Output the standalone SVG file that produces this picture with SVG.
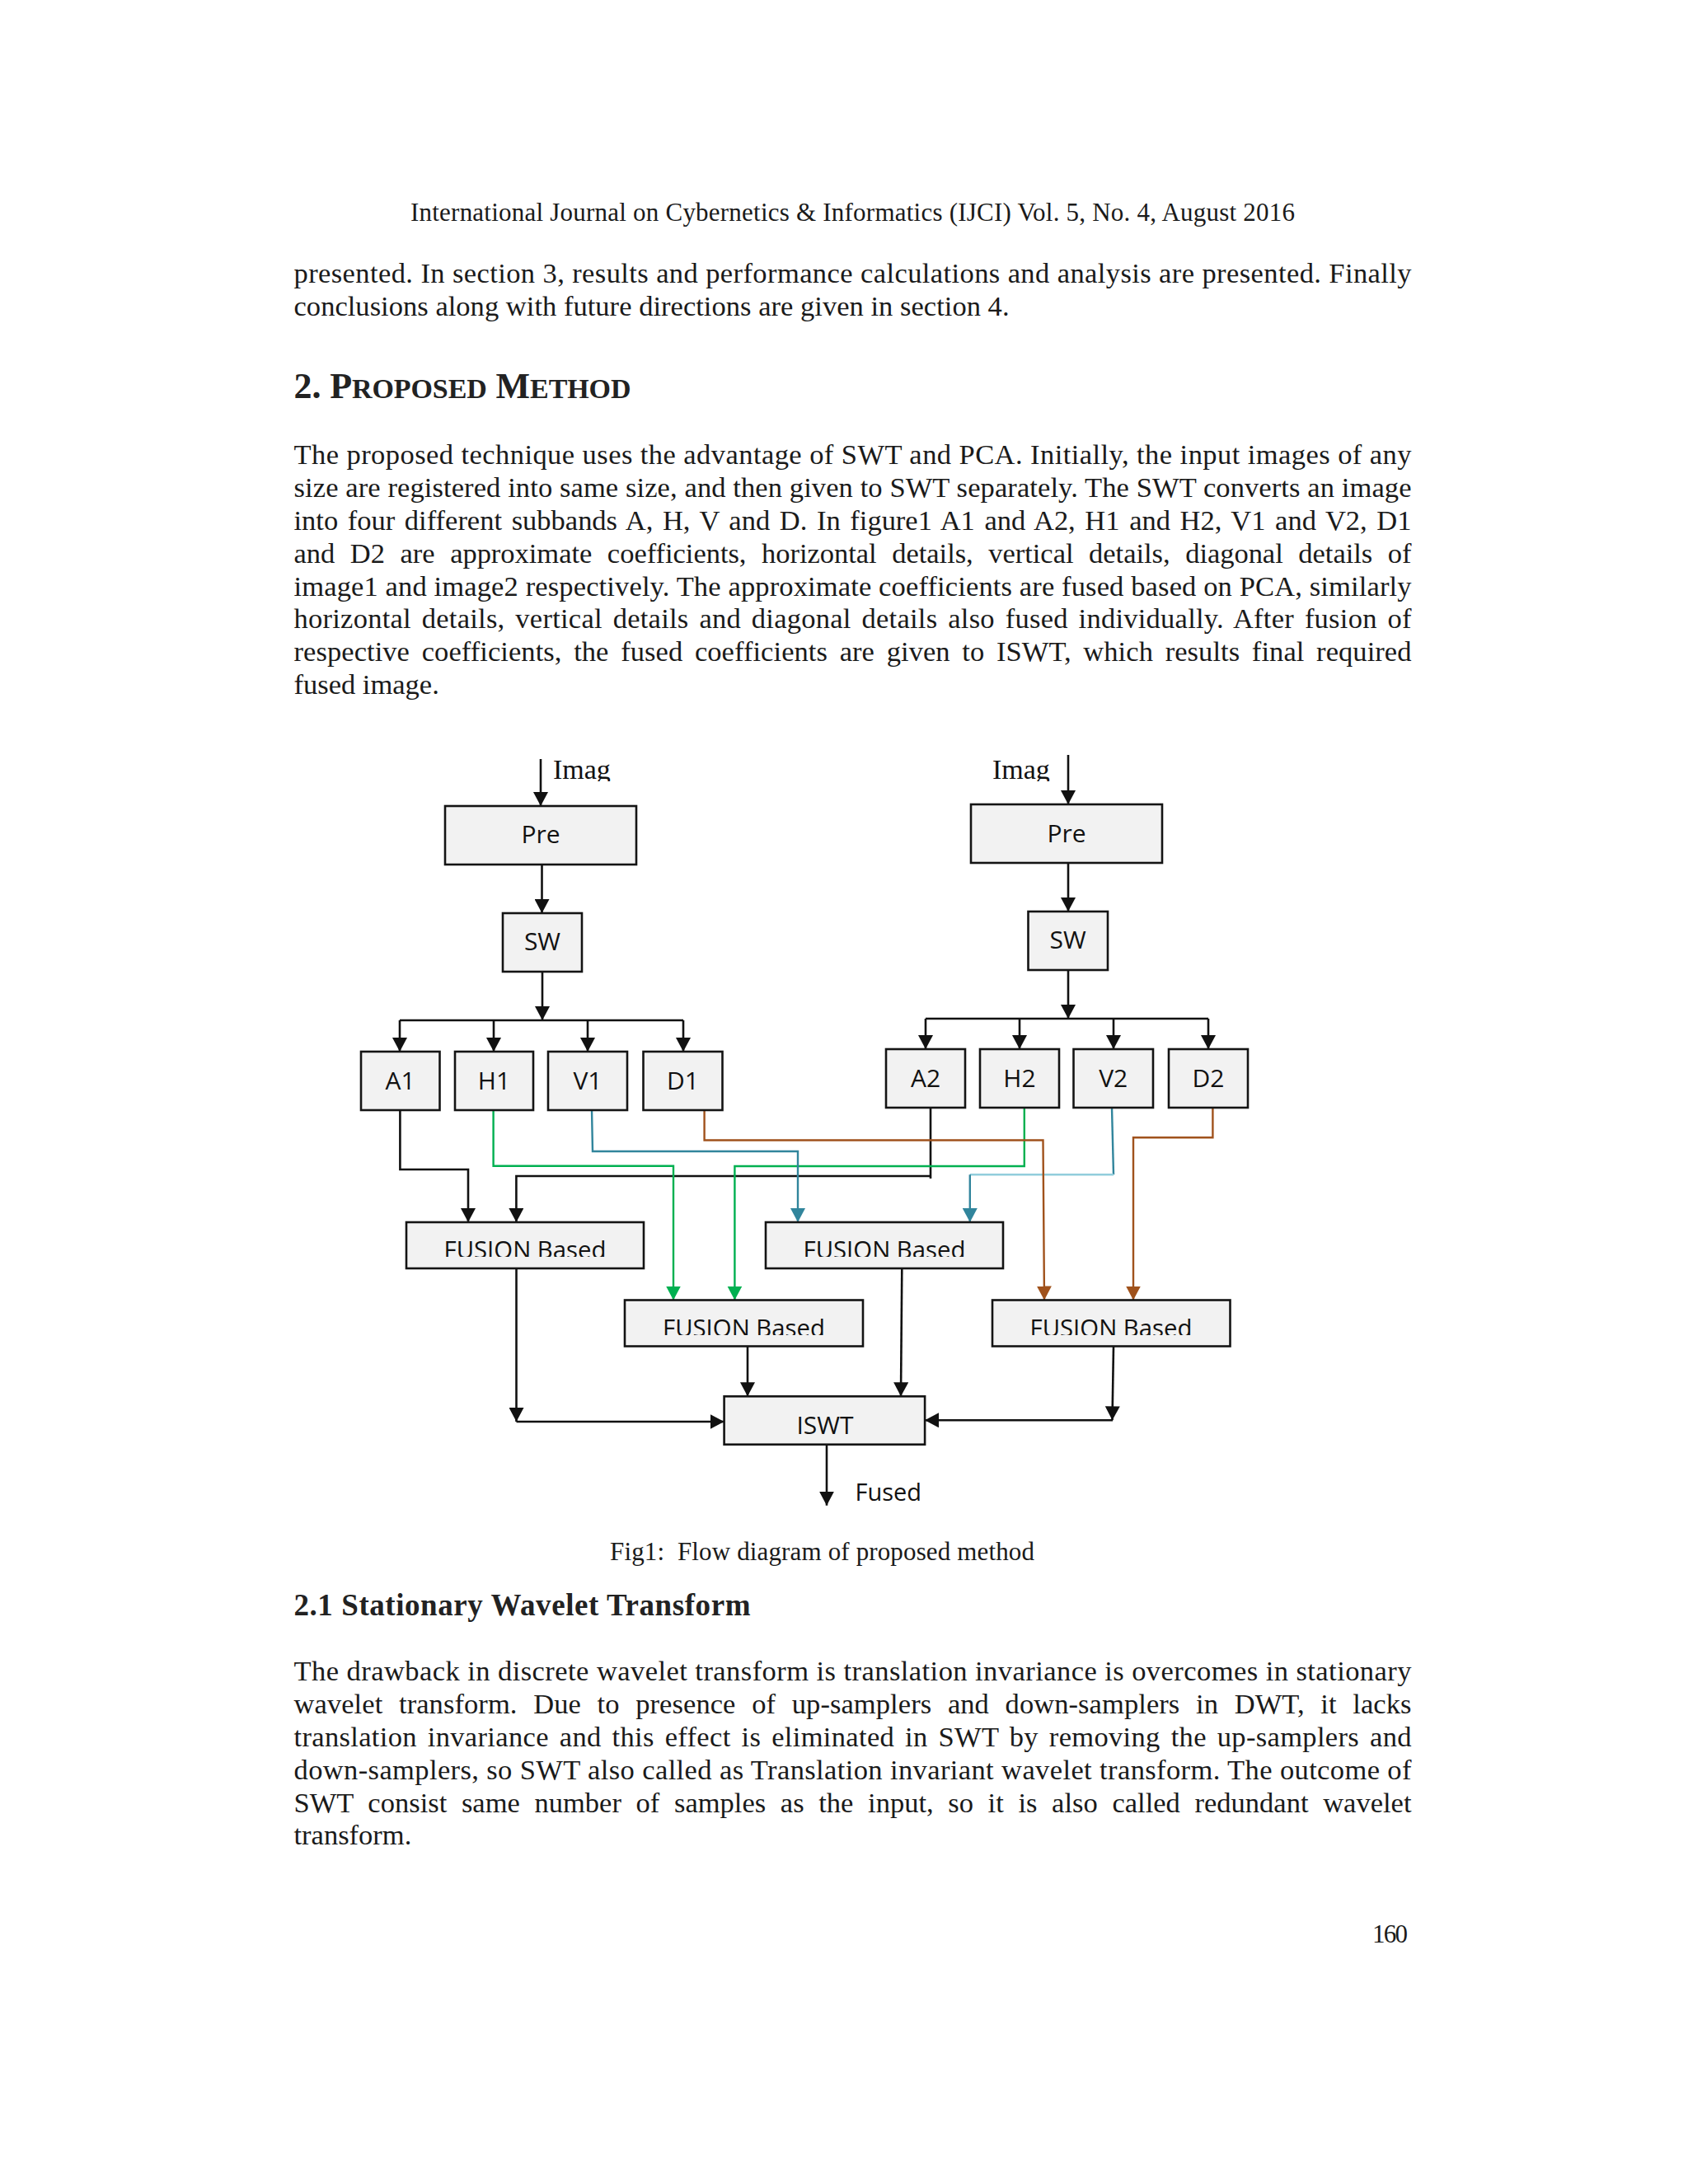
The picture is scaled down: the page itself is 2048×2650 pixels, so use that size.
<svg xmlns="http://www.w3.org/2000/svg" width="2048" height="2650" viewBox="0 0 2048 2650">
<style>
.page{fill:#ffffff}
.box{fill:#f2f2f2;stroke:#141414;stroke-width:2.6}
.lbl{font-family:"Open Sans","Liberation Sans",sans-serif;font-size:30px;fill:#111;text-anchor:middle}
.body{font-family:"Liberation Serif","Times New Roman",serif;font-size:34.5px;fill:#1a1a1a}
.hdr{font-family:"Liberation Serif","Times New Roman",serif;font-size:31px;fill:#1a1a1a}
.h1{font-family:"Liberation Serif","Times New Roman",serif;font-weight:bold;fill:#222}
.img{font-family:"Liberation Serif","Times New Roman",serif;font-size:34px;fill:#111}
.k{stroke:#111;stroke-width:2.6;fill:none}
.g{stroke:#00b050;stroke-width:2.4;fill:none}
.t{stroke:#31859c;stroke-width:2.4;fill:none}
.lt{stroke:#92cddc;stroke-width:2.4;fill:none}
.o{stroke:#a0521c;stroke-width:2.4;fill:none}
</style>
<defs>
<marker id="mk" markerUnits="userSpaceOnUse" markerWidth="18" markerHeight="18" refX="17" refY="9" orient="auto"><path d="M0,0 L17,9 L0,18 Z" fill="#111"/></marker>
<marker id="mg" markerUnits="userSpaceOnUse" markerWidth="18" markerHeight="18" refX="17" refY="9" orient="auto"><path d="M0,0 L17,9 L0,18 Z" fill="#00b050"/></marker>
<marker id="mt" markerUnits="userSpaceOnUse" markerWidth="18" markerHeight="18" refX="17" refY="9" orient="auto"><path d="M0,0 L17,9 L0,18 Z" fill="#31859c"/></marker>
<marker id="mo" markerUnits="userSpaceOnUse" markerWidth="18" markerHeight="18" refX="17" refY="9" orient="auto"><path d="M0,0 L17,9 L0,18 Z" fill="#a0521c"/></marker>
<clipPath id="cImg" clipPathUnits="userSpaceOnUse"><rect x="600" y="900" width="800" height="48"/></clipPath>
<clipPath id="cF1" clipPathUnits="userSpaceOnUse"><rect x="480" y="1485" width="750" height="40"/></clipPath>
<clipPath id="cF2" clipPathUnits="userSpaceOnUse"><rect x="740" y="1580" width="770" height="40"/></clipPath>
</defs>
<rect class="page" x="0" y="0" width="2048" height="2650"/>

<g id="page-text">
<text class="hdr" x="498" y="268" textLength="1073" lengthAdjust="spacing">International Journal on Cybernetics &amp; Informatics (IJCI) Vol. 5, No. 4, August 2016</text>
<text class="body" x="356.5" y="343.3" textLength="1356" lengthAdjust="spacing">presented. In section 3, results and performance calculations and analysis are presented. Finally</text>
<text class="body" x="356.5" y="383.3" textLength="868" lengthAdjust="spacing">conclusions along with future directions are given in section 4.</text>
<text class="h1" x="356.5" y="483.3" textLength="409" lengthAdjust="spacing"><tspan font-size="44">2. P</tspan><tspan font-size="34">ROPOSED</tspan><tspan font-size="44"> M</tspan><tspan font-size="34">ETHOD</tspan></text>
<text class="body" x="356.5" y="563.3" textLength="1356" lengthAdjust="spacing">The proposed technique uses the advantage of SWT and PCA. Initially, the input images of any</text>
<text class="body" x="356.5" y="603.1" textLength="1356" lengthAdjust="spacing">size are registered into same size, and then given to SWT separately. The SWT converts an image</text>
<text class="body" x="356.5" y="642.9" textLength="1356" lengthAdjust="spacing" word-spacing="3">into four different subbands A, H, V and D. In figure1 A1 and A2, H1 and H2, V1 and V2, D1</text>
<text class="body" x="356.5" y="682.7" textLength="1356" lengthAdjust="spacing" word-spacing="10">and D2 are approximate coefficients, horizontal details, vertical details, diagonal details of</text>
<text class="body" x="356.5" y="722.5" textLength="1356" lengthAdjust="spacing">image1 and image2 respectively. The approximate coefficients are fused based on PCA, similarly</text>
<text class="body" x="356.5" y="762.3" textLength="1356" lengthAdjust="spacing" word-spacing="4">horizontal details, vertical details and diagonal details also fused individually. After fusion of</text>
<text class="body" x="356.5" y="802.1" textLength="1356" lengthAdjust="spacing" word-spacing="6">respective coefficients, the fused coefficients are given to ISWT, which results final required</text>
<text class="body" x="356.5" y="841.9">fused image.</text>
<text class="hdr" x="740" y="1893.3" textLength="515" lengthAdjust="spacing" xml:space="preserve">Fig1:  Flow diagram of proposed method</text>
<text class="h1" x="356.5" y="1960" font-size="37" textLength="554" lengthAdjust="spacing">2.1 Stationary Wavelet Transform</text>
<text class="body" x="356.5" y="2039.3" textLength="1356" lengthAdjust="spacing">The drawback in discrete wavelet transform is translation invariance is overcomes in stationary</text>
<text class="body" x="356.5" y="2079.2" textLength="1356" lengthAdjust="spacing" word-spacing="11">wavelet transform. Due to presence of up-samplers and down-samplers in DWT, it lacks</text>
<text class="body" x="356.5" y="2119" textLength="1356" lengthAdjust="spacing" word-spacing="4">translation invariance and this effect is eliminated in SWT by removing the up-samplers and</text>
<text class="body" x="356.5" y="2158.8" textLength="1356" lengthAdjust="spacing">down-samplers, so SWT also called as Translation invariant wavelet transform. The outcome of</text>
<text class="body" x="356.5" y="2198.6" textLength="1356" lengthAdjust="spacing" word-spacing="9">SWT consist same number of samples as the input, so it is also called redundant wavelet</text>
<text class="body" x="356.5" y="2238.4">transform.</text>
<text class="hdr" x="1665" y="2356.7" font-size="30" textLength="43" lengthAdjust="spacing">160</text>
</g>

<g id="connectors">
<path class="k" d="M656,921 V978" marker-end="url(#mk)"/>
<path class="k" d="M657.5,1049 V1108" marker-end="url(#mk)"/>
<path class="k" d="M658,1179 V1238" marker-end="url(#mk)"/>
<path class="k" d="M485,1238 H829"/>
<path class="k" d="M485,1238 V1276" marker-end="url(#mk)"/>
<path class="k" d="M599,1238 V1276" marker-end="url(#mk)"/>
<path class="k" d="M713,1238 V1276" marker-end="url(#mk)"/>
<path class="k" d="M829,1238 V1276" marker-end="url(#mk)"/>

<path class="k" d="M1296,916 V976" marker-end="url(#mk)"/>
<path class="k" d="M1296,1047 V1106" marker-end="url(#mk)"/>
<path class="k" d="M1296,1177 V1236" marker-end="url(#mk)"/>
<path class="k" d="M1123,1236 H1466"/>
<path class="k" d="M1123,1236 V1273" marker-end="url(#mk)"/>
<path class="k" d="M1237,1236 V1273" marker-end="url(#mk)"/>
<path class="k" d="M1351,1236 V1273" marker-end="url(#mk)"/>
<path class="k" d="M1466,1236 V1273" marker-end="url(#mk)"/>

<path class="k" d="M485.4,1347 V1419 H568 V1483" marker-end="url(#mk)"/>
<path class="k" d="M1129,1344 V1430"/>
<path class="k" d="M1129,1427 H626.4 V1483" marker-end="url(#mk)"/>
<path class="g" d="M598.6,1346 V1414.7 H817 V1577.5" marker-end="url(#mg)"/>
<path class="g" d="M1242.8,1344 V1415 H891.4 V1577.5" marker-end="url(#mg)"/>
<path class="t" d="M718,1346 L719,1397 H968 V1483" marker-end="url(#mt)"/>
<path class="t" d="M1349,1344 L1351,1425.3"/>
<path class="lt" d="M1351,1425.3 H1176.8"/>
<path class="t" d="M1176.8,1425.3 V1483" marker-end="url(#mt)"/>
<path class="o" d="M854.6,1346 V1383.5 H1265.5 L1267,1577.5" marker-end="url(#mo)"/>
<path class="o" d="M1471.4,1344 V1380.3 H1375 V1577.5" marker-end="url(#mo)"/>

<path class="k" d="M626.5,1539 V1725" marker-end="url(#mk)"/>
<path class="k" d="M626.5,1725 H878.6" marker-end="url(#mk)"/>
<path class="k" d="M907,1633.5 V1694.3" marker-end="url(#mk)"/>
<path class="k" d="M1094.3,1539 L1093,1694.3" marker-end="url(#mk)"/>
<path class="k" d="M1351,1633.5 L1349.5,1723.3" marker-end="url(#mk)"/>
<path class="k" d="M1350,1723.3 H1122" marker-end="url(#mk)"/>
<path class="k" d="M1003,1752.7 V1826.7" marker-end="url(#mk)"/>
</g>

<g id="input1"><text class="img" x="671" y="945" clip-path="url(#cImg)">Imag</text></g>
<g id="input2"><text class="img" x="1204" y="945" clip-path="url(#cImg)">Imag</text></g>

<g id="pre1"><rect class="box" x="540" y="978" width="232" height="71"/><text class="lbl" x="656" y="1023">Pre</text></g>
<g id="pre2"><rect class="box" x="1178" y="976" width="232" height="71"/><text class="lbl" x="1294" y="1021.5">Pre</text></g>
<g id="sw1"><rect class="box" x="610" y="1108" width="96" height="71"/><text class="lbl" x="658" y="1153">SW</text></g>
<g id="sw2"><rect class="box" x="1247.5" y="1106" width="96.5" height="71"/><text class="lbl" x="1295.7" y="1151">SW</text></g>

<g id="a1"><rect class="box" x="438" y="1276" width="95.5" height="71"/><text class="lbl" x="485.5" y="1321.7">A1</text></g>
<g id="h1"><rect class="box" x="552" y="1276" width="95" height="71"/><text class="lbl" x="599.5" y="1321.7">H1</text></g>
<g id="v1"><rect class="box" x="665" y="1276" width="96" height="71"/><text class="lbl" x="713" y="1321.7">V1</text></g>
<g id="d1"><rect class="box" x="780.5" y="1276" width="96" height="71"/><text class="lbl" x="828.5" y="1321.7">D1</text></g>

<g id="a2"><rect class="box" x="1075" y="1273" width="96" height="71"/><text class="lbl" x="1123" y="1318.5">A2</text></g>
<g id="h2"><rect class="box" x="1189" y="1273" width="96" height="71"/><text class="lbl" x="1237" y="1318.5">H2</text></g>
<g id="v2"><rect class="box" x="1302.5" y="1273" width="96.5" height="71"/><text class="lbl" x="1350.7" y="1318.5">V2</text></g>
<g id="d2"><rect class="box" x="1418" y="1273" width="96" height="71"/><text class="lbl" x="1466" y="1318.5">D2</text></g>

<g id="fusion1"><rect class="box" x="493" y="1483" width="288" height="56"/><text class="lbl" x="637" y="1527" textLength="197" lengthAdjust="spacingAndGlyphs" clip-path="url(#cF1)">FUSION Based</text></g>
<g id="fusion3"><rect class="box" x="929" y="1483" width="288" height="56"/><text class="lbl" x="1073" y="1527" textLength="197" lengthAdjust="spacingAndGlyphs" clip-path="url(#cF1)">FUSION Based</text></g>
<g id="fusion2"><rect class="box" x="758" y="1577.5" width="289" height="56"/><text class="lbl" x="902.5" y="1622" textLength="197" lengthAdjust="spacingAndGlyphs" clip-path="url(#cF2)">FUSION Based</text></g>
<g id="fusion4"><rect class="box" x="1204" y="1577.5" width="288.5" height="56"/><text class="lbl" x="1348" y="1622" textLength="197" lengthAdjust="spacingAndGlyphs" clip-path="url(#cF2)">FUSION Based</text></g>

<g id="iswt"><rect class="box" x="878.6" y="1694.3" width="243.5" height="58.4"/><text class="lbl" x="1001" y="1740">ISWT</text></g>
<g id="output"><text class="lbl" x="1037.5" y="1821" style="text-anchor:start" textLength="80.5" lengthAdjust="spacingAndGlyphs">Fused</text></g>
</svg>
